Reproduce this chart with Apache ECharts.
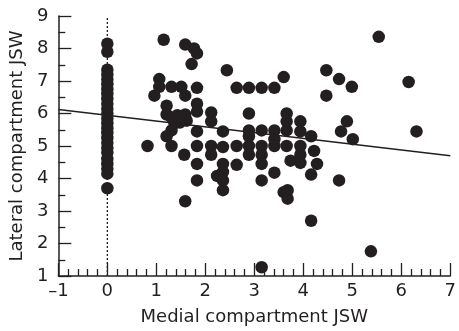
<!DOCTYPE html>
<html>
<head>
<meta charset="utf-8">
<script src="https://cdn.jsdelivr.net/npm/echarts@6/dist/echarts.min.js"></script>
<style>
  html, body { margin: 0; padding: 0; background: #fff; }
  #chart { width: 459px; height: 331px; }
</style>
</head>
<body>
<div id="chart"></div>
<script>
// medial JSW = 0 column
const zeroColumnY = [8.15, 7.9, 7.35, 7.2, 7.05, 6.9, 6.75, 6.6, 6.45, 6.3, 6.15, 6.0,
    5.85, 5.7, 5.55, 5.4, 5.25, 5.1, 4.95, 4.8, 4.6, 4.45, 4.3, 4.15, 3.7];

// [medial, lateral] for the rest
const otherPoints = [
    [1.15, 8.27], [1.59, 8.12], [1.77, 8.0], [1.83, 7.85], [1.72, 7.52], [2.44, 7.33],
    [1.06, 7.06], [1.06, 6.82], [0.96, 6.55], [1.31, 6.82], [1.51, 6.82], [1.59, 6.55],
    [1.83, 6.79], [2.64, 6.79], [2.89, 6.79], [3.15, 6.79], [3.41, 6.79], [3.60, 7.12],
    [1.83, 6.3], [1.83, 6.06], [1.21, 6.24], [1.21, 5.97], [1.31, 5.88], [1.43, 5.95],
    [1.59, 5.97], [1.62, 5.78], [1.48, 5.72], [1.37, 5.7], [2.12, 6.03], [2.12, 5.76],
    [2.89, 6.0], [3.66, 6.0], [3.66, 5.76], [3.94, 5.76], [1.21, 5.3], [1.31, 5.48],
    [1.83, 5.45], [2.36, 5.45], [2.89, 5.48], [2.89, 5.3], [3.15, 5.48], [3.41, 5.48],
    [3.41, 5.21], [3.66, 5.48], [3.94, 5.45], [0.82, 5.0], [1.31, 5.0], [1.83, 5.0],
    [2.12, 5.0], [2.36, 4.97], [2.64, 5.0], [2.89, 5.0], [3.15, 5.0], [3.41, 5.0],
    [3.66, 5.0], [3.94, 5.0], [1.57, 4.73], [2.12, 4.73], [2.89, 4.73], [3.15, 4.73],
    [3.74, 4.55], [3.94, 4.73], [1.83, 4.45], [2.36, 4.45], [2.64, 4.42], [3.15, 4.45],
    [3.94, 4.48], [1.83, 3.94], [2.24, 4.08], [2.36, 4.2], [2.36, 3.94], [2.36, 3.64],
    [3.15, 3.94], [3.41, 4.18], [3.60, 3.58], [3.68, 3.64], [3.68, 3.38], [1.59, 3.3],
    [3.15, 1.27], [4.16, 2.70], [4.28, 4.45], [4.16, 4.12], [4.73, 3.94], [5.38, 1.76],
    [5.54, 8.36], [4.47, 7.33], [4.73, 7.06], [4.99, 6.82], [4.47, 6.55], [6.15, 6.97],
    [6.31, 5.45], [4.89, 5.76], [4.77, 5.45], [5.01, 5.21], [4.16, 5.3], [4.22, 4.85]
];

// fitted line end points
const fitLine = [[-1, 6.12], [7, 4.70]];
const zeroLine = [[0, 1], [0, 9]];

const points = zeroColumnY.map((y) => [0, y]).concat(otherPoints);

const ink = '#231f20';
const font = 'DejaVu Sans';

let chart = echarts.init(document.getElementById('chart'), null, { renderer: 'canvas' });

chart.setOption({
    animation: false,
    grid: { left: 58, top: 16, right: 6, bottom: 51 },
    xAxis: {
        type: 'value',
        min: -1, max: 7, interval: 1,
        name: 'Medial compartment JSW',
        nameLocation: 'middle',
        nameGap: 32,
        nameTextStyle: { color: ink, fontSize: 18, fontFamily: font },
        axisLine: { onZero: false, lineStyle: { color: ink, width: 1.5 } },
        axisTick: { inside: true, length: 13, lineStyle: { color: ink, width: 1.3 } },
        minorTick: { show: true, splitNumber: 5, length: 7, lineStyle: { color: ink, width: 1.3 } },
        splitLine: { show: false },
        axisLabel: {
            color: ink, fontSize: 18, fontFamily: font, margin: 6,
            formatter: (v) => String(v).replace('-', '\u2013')
        }
    },
    yAxis: {
        type: 'value',
        min: 1, max: 9, interval: 1,
        name: 'Lateral compartment JSW',
        nameLocation: 'middle',
        nameGap: 31,
        nameTextStyle: { color: ink, fontSize: 18, fontFamily: font },
        axisLine: { show: true, onZero: false, lineStyle: { color: ink, width: 1.5 } },
        axisTick: { show: true, inside: true, length: 13, lineStyle: { color: ink, width: 1.3 } },
        minorTick: { show: true, splitNumber: 2, length: 7, lineStyle: { color: ink, width: 1.3 } },
        splitLine: { show: false },
        axisLabel: { color: ink, fontSize: 18, fontFamily: font, margin: 10 }
    },
    series: [{
        type: 'line',
        data: zeroLine,
        symbol: 'none',
        lineStyle: { color: ink, width: 1.3, type: [2, 2] },
        silent: true
    }, {
        type: 'scatter',
        data: points,
        symbol: 'circle',
        symbolSize: 12.5,
        itemStyle: { color: ink, opacity: 1 }
    }, {
        type: 'line',
        data: fitLine,
        symbol: 'none',
        lineStyle: { color: ink, width: 1.5 },
        z: 3
    }]
});
</script>
</body>
</html>
